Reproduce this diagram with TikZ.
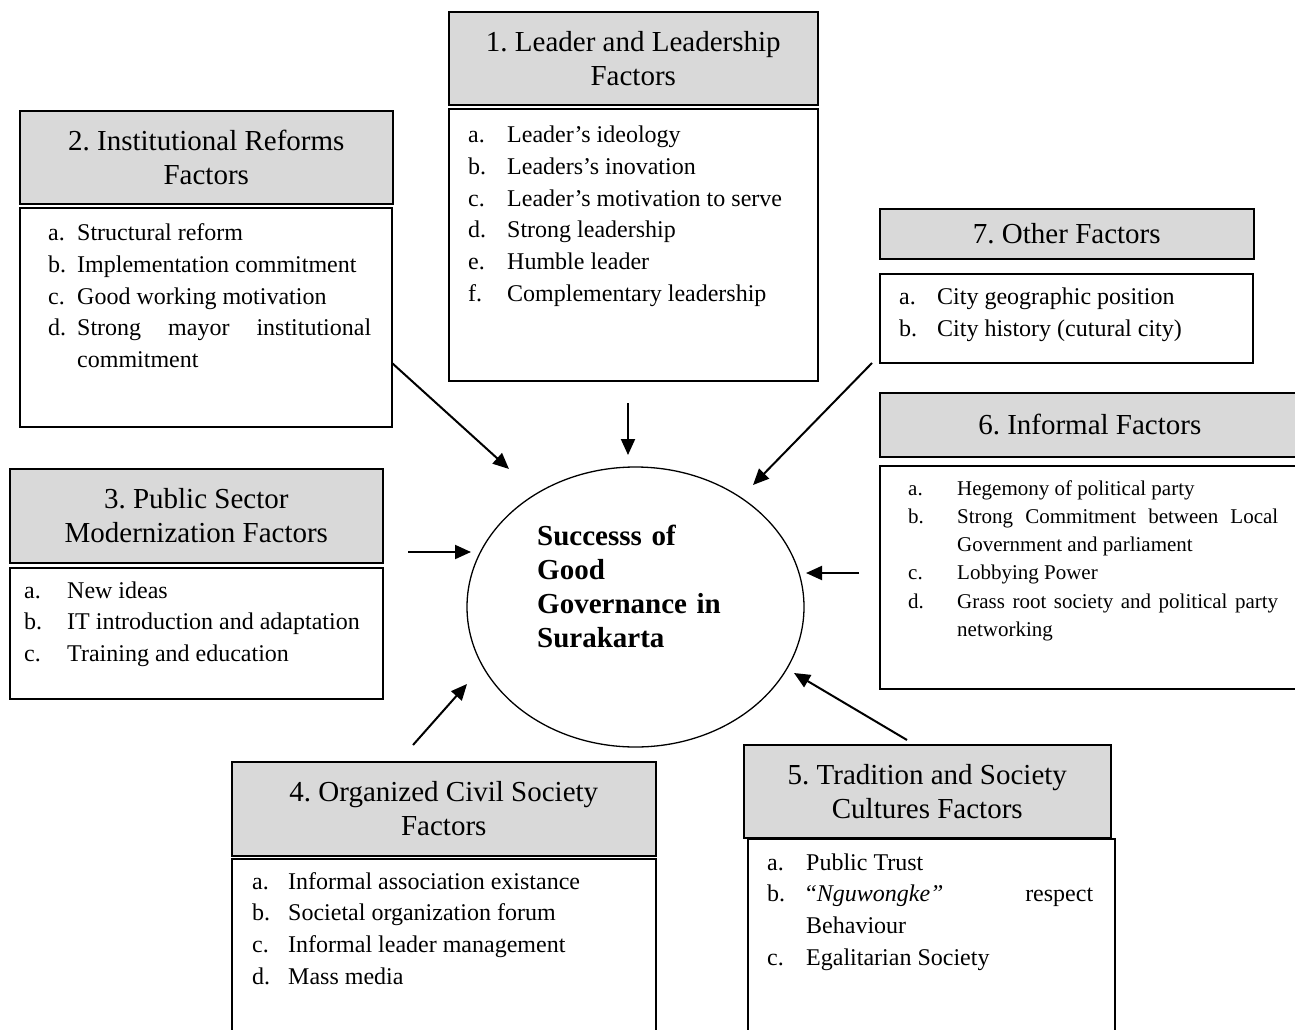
\documentclass[tikz,border=0pt]{standalone}
\usepackage{fontspec}
\setmainfont{Liberation Serif}
\usetikzlibrary{arrows.meta,shapes.geometric}
\definecolor{hdrgray}{RGB}{217,217,217}
\newcommand{\itm}[3]{\ifvmode\noindent\fi\hangindent=#1pt\hangafter=1\makebox[#1pt][l]{#2}#3\par}
\newcommand{\lstsetup}{\frenchspacing\tolerance=10000 \hbadness=10000 \hyphenpenalty=10000 \exhyphenpenalty=10000 \parindent=0pt\relax}
\begin{document}
\begin{tikzpicture}[x=1pt,y=-1pt,
  hdr/.style={draw=black, line width=1.6pt, fill=hdrgray, rectangle, inner sep=0pt,
    anchor=north west, align=center, font=\fontsize{29}{34}\selectfont\frenchspacing},
  body/.style={draw=black, line width=1.6pt, rectangle, inner sep=0pt, anchor=north west},
  lst/.style={inner sep=0pt, anchor=base west, align=justify,
    font=\fontsize{24}{31.8}\selectfont\lstsetup},
  goalbox/.style={draw=black, line width=1.3pt, ellipse, inner sep=0pt},
  arr/.style={line width=2pt, -{Triangle[length=16pt,width=14pt]}}]
\clip (0,0) rectangle (1295,1030);
\useasboundingbox (0,0) rectangle (1295,1030);
\fill[white] (0,0) rectangle (1295,1030);

% 1. Leader and Leadership
\node[hdr, minimum width=369pt, minimum height=93pt] (h1) at (448,11) {1. Leader and Leadership\\Factors};
\node[body, minimum width=369pt, minimum height=272pt] (b1) at (448,108) {};
\node[lst, text width=341pt] (t1) at (468,142.5) {%
\itm{39}{a.}{Leader’s ideology}%
\itm{39}{b.}{Leaders’s inovation}%
\itm{39}{c.}{Leader’s motivation to serve}%
\itm{39}{d.}{Strong leadership}%
\itm{39}{e.}{Humble leader}%
\itm{39}{f.}{Complementary leadership}};

% 2. Institutional Reforms
\node[hdr, minimum width=373pt, minimum height=93pt] (h2) at (19,110) {2. Institutional Reforms\\Factors};
\node[body, minimum width=372pt, minimum height=219pt] (b2) at (19,207) {};
\node[lst, text width=323pt] (t2) at (48,240.5) {%
\itm{29}{a.}{Structural reform}%
\itm{29}{b.}{Implementation commitment}%
\itm{29}{c.}{Good working motivation}%
\itm{29}{d.}{Strong mayor institutional commitment}};

% 3. Public Sector Modernization
\node[hdr, minimum width=373pt, minimum height=94pt] (h3) at (9,468) {3. Public Sector\\Modernization Factors};
\node[body, minimum width=373pt, minimum height=131pt] (b3) at (9,567) {};
\node[lst, text width=352pt] (t3) at (24,598) {%
\itm{43}{a.}{New ideas}%
\itm{43}{b.}{IT introduction and adaptation}%
\itm{43}{c.}{Training and education}};

% 4. Organized Civil Society
\node[hdr, minimum width=424pt, minimum height=94pt] (h4) at (231,761) {4. Organized Civil Society\\Factors};
\node[body, minimum width=424pt, minimum height=190pt] (b4) at (231,858) {};
\node[lst, text width=390pt] (t4) at (252,889) {%
\itm{36}{a.}{Informal association existance}%
\itm{36}{b.}{Societal organization forum}%
\itm{36}{c.}{Informal leader management}%
\itm{36}{d.}{Mass media}};

% 5. Tradition and Society Cultures
\node[hdr, minimum width=367pt, minimum height=93pt] (h5) at (743,744) {5. Tradition and Society\\Cultures Factors};
\node[body, minimum width=367pt, minimum height=210pt] (b5) at (747,838) {};
\node[lst, text width=326pt] (t5) at (767,870) {%
\itm{39}{a.}{Public Trust}%
\itm{39}{b.}{“\textit{Nguwongke”} respect Behaviour}%
\itm{39}{c.}{Egalitarian Society}};

% 6. Informal Factors
\node[hdr, minimum width=420pt, minimum height=64pt] (h6) at (879,392) {6. Informal Factors};
\node[body, minimum width=420pt, minimum height=223pt] (b6) at (879,465) {};
\node[lst, text width=370pt, font=\fontsize{21}{28.3}\selectfont\lstsetup] (t6) at (908,495) {%
\itm{49}{a.}{Hegemony of political party}%
\itm{49}{b.}{Strong Commitment between Local Government and parliament}%
\itm{49}{c.}{Lobbying Power}%
\itm{49}{d.}{Grass root society and political party networking}};

% 7. Other Factors
\node[hdr, minimum width=374pt, minimum height=50pt] (h7) at (879,208) {7. Other Factors};
\node[body, minimum width=373pt, minimum height=89pt] (b7) at (879,273) {};
\node[lst, text width=343pt, font=\fontsize{24}{32}\selectfont\lstsetup] (t7) at (899,304) {%
\itm{38}{a.}{City geographic position}%
\itm{38}{b.}{City history (cutural city)}};

% Central ellipse
\node[goalbox, minimum width=337pt, minimum height=280pt] (goal) at (635.5,607) {};
\node[inner sep=0pt, anchor=base west, text width=220pt, align=left,
  font=\bfseries\fontsize{29}{34}\selectfont\frenchspacing] (goaltxt) at (537,545)
  {Successs of\\Good\\Governance in\\Surakarta};

% Arrow end points
\coordinate (s1) at (628,403);   \coordinate (e1) at (628,455);
\coordinate (s2) at (392,363);   \coordinate (e2) at (509,469);
\coordinate (s3) at (408,552);   \coordinate (e3) at (471,552);
\coordinate (s4) at (413,745);   \coordinate (e4) at (467,684);
\coordinate (s5) at (907,740);   \coordinate (e5) at (794,673);
\coordinate (s6) at (859,573);   \coordinate (e6) at (806,573);
\coordinate (s7) at (872,363);   \coordinate (e7) at (753,485);

\draw[arr] (s1) -- (e1);
\draw[arr] (s2) -- (e2);
\draw[arr] (s3) -- (e3);
\draw[arr] (s4) -- (e4);
\draw[arr] (s5) -- (e5);
\draw[arr] (s6) -- (e6);
\draw[arr] (s7) -- (e7);
\end{tikzpicture}
\end{document}
